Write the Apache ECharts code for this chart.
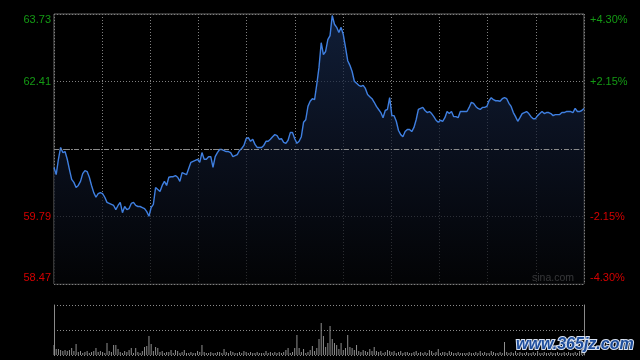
<!DOCTYPE html>
<html><head><meta charset="utf-8">
<script src="https://cdn.jsdelivr.net/npm/echarts@6/dist/echarts.min.js"></script>
<style>html,body{margin:0;padding:0;background:#000;}#c{width:640px;height:360px;}</style>
</head><body><div id="c"></div>
<script>
const prevClose = 61.10;
const priceMin = 58.47;
const priceMax = 63.73;
const leftTickLabels = ['58.47', '59.79', '', '62.41', '63.73'];
const rightTickLabels = ['-4.30%', '-2.15%', '', '+2.15%', '+4.30%'];

const prices = [
60.74,60.60,60.90,61.13,61.03,61.05,60.90,60.70,60.51,60.45,
60.35,60.39,60.47,60.62,60.68,60.66,60.55,60.39,60.25,60.16,
60.23,60.25,60.23,60.16,60.06,60.04,60.02,60.00,59.92,60.00,
60.06,59.86,59.98,59.92,59.94,60.04,60.06,60.00,59.98,59.98,
59.96,59.94,59.88,59.79,59.96,60.02,60.35,60.31,60.27,60.39,
60.47,60.39,60.55,60.56,60.56,60.58,60.55,60.47,60.64,60.62,
60.60,60.72,60.84,60.86,60.88,60.90,60.84,61.03,60.90,60.90,
60.95,60.95,60.74,60.95,61.03,61.09,61.09,61.07,61.05,61.05,
61.03,60.95,60.97,60.99,61.07,61.11,61.17,61.30,61.32,61.25,
61.29,61.19,61.13,61.13,61.13,61.17,61.25,61.25,61.29,61.34,
61.38,61.36,61.29,61.30,61.23,61.21,61.27,61.42,61.42,61.30,
61.21,61.25,61.34,61.62,61.67,61.93,62.03,62.08,62.06,62.36,
62.69,63.17,62.94,63.00,63.23,63.31,63.70,63.53,63.47,63.37,
63.47,63.33,63.08,62.82,62.73,62.61,62.42,62.38,62.34,62.32,
62.34,62.28,62.16,62.12,62.08,62.01,61.93,61.87,61.81,61.71,
61.85,61.87,62.10,61.75,61.75,61.64,61.46,61.38,61.34,61.44,
61.48,61.48,61.44,61.52,61.67,61.87,61.89,61.91,61.85,61.81,
61.83,61.79,61.73,61.66,61.62,61.66,61.64,61.71,61.83,61.79,
61.83,61.73,61.73,61.71,61.83,61.83,61.83,61.83,61.91,62.01,
61.99,61.93,61.89,61.87,61.91,61.91,61.93,62.04,62.10,62.06,
62.04,62.04,62.03,62.08,62.10,62.08,61.99,61.93,61.81,61.73,
61.64,61.71,61.79,61.81,61.83,61.79,61.73,61.69,61.69,61.75,
61.79,61.83,61.79,61.81,61.81,61.79,61.75,61.77,61.77,61.77,
61.81,61.81,61.83,61.83,61.83,61.81,61.89,61.83,61.83,61.85,
61.89];

const volumes = [
10,6,6,5,4,5,4,5,7,4,
11,3,4,2,3,4,2,3,4,7,
3,4,3,2,12,4,3,10,10,6,
3,2,4,3,5,7,2,7,3,2,
4,8,9,19,11,4,8,7,3,4,
2,3,3,5,2,5,4,2,3,5,
2,2,3,2,2,4,3,10,3,2,
2,3,2,2,3,3,2,6,3,2,
4,3,2,2,3,2,4,3,2,3,
2,2,3,2,2,2,4,2,3,2,
3,2,3,2,3,5,7,2,3,7,
20,7,3,6,2,3,5,9,4,7,
16,32,19,8,12,29,16,12,10,6,
12,5,7,20,8,7,5,10,4,3,
5,4,3,6,4,8,4,3,4,2,
3,5,4,3,4,2,3,4,2,3,
3,2,2,3,4,2,3,2,3,2,
5,4,2,3,6,2,3,3,2,4,
3,2,2,3,2,2,2,2,3,2,
2,3,2,4,2,3,2,2,4,3,
2,2,3,2,13,3,2,3,2,4,
2,3,2,2,3,2,2,3,2,4,
2,2,3,2,2,3,2,2,3,2,
2,3,2,3,2,2,3,2,4,3,
3];

// trading minutes 09:30-11:30, 13:01-15:00
const times = [];
function pad(n){return (n<10?'0':'')+n;}
for (let m = 9*60+30; m <= 11*60+30; m++) times.push(pad(Math.floor(m/60))+':'+pad(m%60));
for (let m = 13*60+1; m <= 15*60; m++) times.push(pad(Math.floor(m/60))+':'+pad(m%60));

const FONT = 'Liberation Sans, Arial, sans-serif';
const GREEN = '#149a14';
const RED = '#d40000';
const tickStep = (priceMax - priceMin) / 4;
function tickIndex(v){ return Math.round((Number(v) - priceMin) / tickStep); }
function labelFor(arr, v){
  const i = tickIndex(v);
  const t = arr[i] || '';
  if (!t) return '';
  if (i === 4) return '{t|' + t + '}';
  if (i === 0) return '{b|' + t + '}';
  return t;
}
function colorFor(v){ return Number(v) > prevClose ? GREEN : RED; }
const richEdge = { t: { padding: [12, 0, 0, 0] }, b: { padding: [0, 0, 12, 0] } };

const chart = echarts.init(document.getElementById('c'), null, {renderer: 'canvas'});
chart.setOption({
  backgroundColor: '#000',
  animation: false,
  grid: [
    {left: 54, top: 14, width: 530, height: 270, show: true, borderColor: '#6a6a6a', borderWidth: 1, backgroundColor: 'transparent'},
    {left: 54, top: 305, width: 530, height: 50, show: false}
  ],
  xAxis: [
    {type: 'category', gridIndex: 0, data: times, boundaryGap: false, show: false},
    {type: 'category', gridIndex: 1, data: times, boundaryGap: false, show: false},
    {type: 'value', gridIndex: 0, min: 0, max: 11, interval: 1,
     axisLine: {show: false}, axisTick: {show: false}, axisLabel: {show: false},
     splitLine: {show: true, lineStyle: {color: '#808080', type: [1, 2], width: 1}}}
  ],
  yAxis: [
    {type: 'value', gridIndex: 0, min: priceMin, max: priceMax, interval: tickStep, position: 'left',
     axisLine: {show: false}, axisTick: {show: false},
     axisLabel: {margin: 3, fontSize: 11, fontFamily: FONT, color: colorFor,
       formatter: function(v){ return labelFor(leftTickLabels, v); }, rich: richEdge},
     splitLine: {show: true, lineStyle: {color: '#808080', type: [1, 2], width: 1}}},
    {type: 'value', gridIndex: 0, min: priceMin, max: priceMax, interval: tickStep, position: 'right',
     axisLine: {show: false}, axisTick: {show: false},
     axisLabel: {margin: 6, fontSize: 11, fontFamily: FONT, color: colorFor,
       formatter: function(v){ return labelFor(rightTickLabels, v); }, rich: richEdge},
     splitLine: {show: false}},
    {type: 'value', gridIndex: 1, min: 0, max: 50, interval: 25, position: 'left',
     axisLine: {show: true, lineStyle: {color: '#8a8a8a', width: 1}}, axisTick: {show: false}, axisLabel: {show: false},
     splitLine: {show: true, lineStyle: {color: '#8a8a8a', type: [1, 2], width: 1}}},
    {type: 'value', gridIndex: 1, min: 0, max: 50, interval: 25, position: 'right',
     axisLine: {show: true, lineStyle: {color: '#8a8a8a', width: 1}}, axisTick: {show: false}, axisLabel: {show: false},
     splitLine: {show: false}}
  ],
  series: [
    {type: 'line', xAxisIndex: 0, yAxisIndex: 0, data: prices, showSymbol: false, symbol: 'none',
     lineStyle: {color: '#3f7fe0', width: 1.4},
     areaStyle: {origin: 'start', color: new echarts.graphic.LinearGradient(0, 0, 0, 1, [
       {offset: 0, color: '#172a4e'}, {offset: 0.5, color: '#0e1629'}, {offset: 1, color: '#040507'}])},
     markLine: {silent: true, symbol: 'none', label: {show: false},
       lineStyle: {color: '#8c8c8c', type: [5, 2, 1, 2], width: 1},
       data: [{yAxis: prevClose}]},
     z: 3},
    {type: 'bar', xAxisIndex: 1, yAxisIndex: 2, data: volumes, barWidth: 1,
     itemStyle: {color: '#8e8e8e'}}
  ],
  graphic: [
    {type: 'text', left: 532, top: 273, style: {text: 'sina.com', fill: '#a8a8a8', font: '10.5px ' + FONT}},
    {type: 'text', left: 515, top: 336, z: 100, style: {text: 'www.365jz.com', fill: '#1f4e9c',
      stroke: '#d8e2f2', lineWidth: 2, font: 'italic bold 16px ' + FONT,
      shadowColor: 'rgba(160,170,190,0.8)', shadowBlur: 2, shadowOffsetX: 1, shadowOffsetY: 1}}
  ]
});
</script>
</body></html>
